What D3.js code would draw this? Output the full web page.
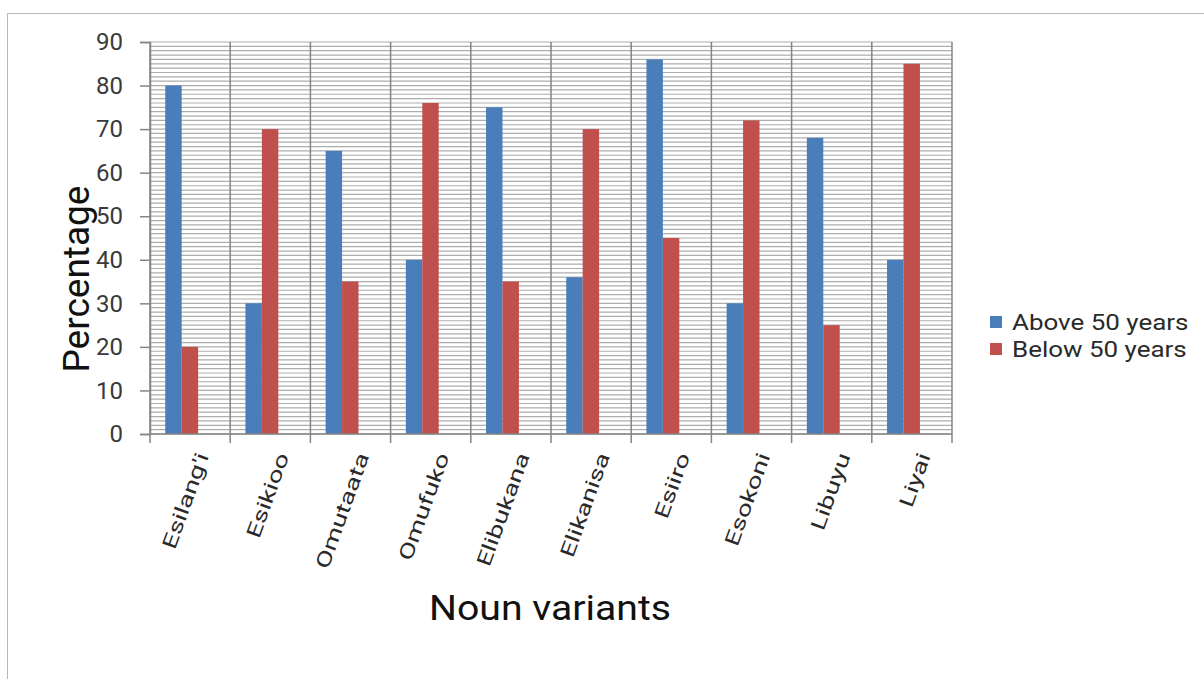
<!DOCTYPE html>
<html>
<head>
<meta charset="utf-8">
<script src="https://cdn.jsdelivr.net/npm/d3@7"></script>
<style>
  body { margin: 0; background: #fff; }
  text { font-family: Roboto, "Liberation Sans", Arial, sans-serif; }
</style>
</head>
<body>
<svg id="chart"></svg>
<script>
const WIDTH_PX = 1204;
const HEIGHT_PX = 679;

const categories = ["Esilang'i", "Esikioo", "Omutaata", "Omufuko", "Elibukana",
                    "Elikanisa", "Esiiro", "Esokoni", "Libuyu", "Liyai"];
const seriesNames = ["Above 50 years", "Below 50 years"];
const above50 = [80, 30, 65, 40, 75, 36, 86, 30, 68, 40];
const below50 = [20, 70, 35, 76, 35, 70, 45, 72, 25, 85];
const yTicks = [0, 10, 20, 30, 40, 50, 60, 70, 80, 90];
const colors = ["#4a7ebb", "#c0504d"];

const margin = {left: 150, right: 252, top: 42, bottom: 245};

let svg = d3.select('#chart')
    .attr('width', WIDTH_PX)
    .attr('height', HEIGHT_PX);

// outer frame of the chart area
svg.append('rect')
    .attr('x', 7.5).attr('y', 13.5)
    .attr('width', 1205).attr('height', 680)
    .attr('fill', 'none')
    .attr('stroke', '#b8b8b8');

let xScale = d3.scaleBand()
    .domain(categories)
    .range([margin.left, WIDTH_PX - margin.right]);

let yScale = d3.scaleLinear()
    .domain([0, 90])
    .range([HEIGHT_PX - margin.bottom, margin.top]);

// bars sit a little left of each category centre, as in the original
let xInner = d3.scaleBand()
    .domain(seriesNames)
    .range([xScale.bandwidth() * 0.19, xScale.bandwidth() * 0.6]);

// minor horizontal grid, one line per unit
svg.append('g')
    .selectAll('line')
    .data(d3.range(0, 91))
    .join('line')
    .attr('x1', margin.left).attr('x2', WIDTH_PX - margin.right)
    .attr('y1', d => yScale(d)).attr('y2', d => yScale(d))
    .attr('stroke', '#adadad')
    .attr('stroke-width', 1.2);

// vertical grid at category boundaries
let bounds = categories.map(c => xScale(c)).concat([xScale.range()[1]]);
svg.append('g')
    .selectAll('line')
    .data(bounds)
    .join('line')
    .attr('x1', d => d).attr('x2', d => d)
    .attr('y1', yScale(90)).attr('y2', yScale(0) + 9)
    .attr('stroke', '#858585')
    .attr('stroke-width', 1.5);

let rows = categories.map((c, i) => ({cat: c, values: [above50[i], below50[i]]}));

svg.append('g')
    .selectAll('g')
    .data(rows)
    .join('g')
    .attr('transform', d => 'translate(' + xScale(d.cat) + ',0)')
    .selectAll('rect')
    .data(d => d.values.map((v, k) => ({name: seriesNames[k], value: v, k: k})))
    .join('rect')
    .attr('x', d => xInner(d.name))
    .attr('width', xInner.bandwidth())
    .attr('y', d => yScale(d.value))
    .attr('height', d => yScale(0) - yScale(d.value))
    .attr('fill', d => colors[d.k]);

// y axis
let yAxis = svg.append('g')
    .attr('transform', 'translate(' + margin.left + ',0)')
    .call(d3.axisLeft(yScale).tickValues(yTicks).tickSize(10).tickPadding(17));
yAxis.select('.domain').attr('stroke', '#858585').attr('stroke-width', 1.5);
yAxis.selectAll('.tick line').attr('stroke', '#858585').attr('stroke-width', 1.5);
yAxis.selectAll('.tick text')
    .attr('font-size', 24)
    .attr('fill', '#3a3a3a')
    .style('font-family', 'Roboto, sans-serif');

// x axis line
svg.append('line')
    .attr('x1', margin.left).attr('x2', WIDTH_PX - margin.right)
    .attr('y1', yScale(0)).attr('y2', yScale(0))
    .attr('stroke', '#858585')
    .attr('stroke-width', 1.5);

// rotated category labels
svg.append('g')
    .selectAll('text')
    .data(categories)
    .join('text')
    .attr('transform', d => 'translate(' + (xScale(d) + xScale.bandwidth() / 2 + 19) + ',456) rotate(-70) scale(1.38,1)')
    .attr('text-anchor', 'end')
    .attr('font-size', 20)
    .attr('fill', '#2a2a2a')
    .text(d => d);

// axis titles
svg.append('text')
    .attr('transform', 'translate(550,620) scale(1.12,1)')
    .attr('text-anchor', 'middle')
    .attr('font-size', 35)
    .attr('fill', '#111')
    .text('Noun variants');

svg.append('text')
    .attr('transform', 'translate(89,279) rotate(-90)')
    .attr('text-anchor', 'middle')
    .attr('font-size', 37)
    .attr('fill', '#111')
    .text('Percentage');

// legend
let legend = svg.append('g')
    .selectAll('g')
    .data(seriesNames)
    .join('g')
    .attr('transform', (d, i) => 'translate(990,' + (322 + i * 27) + ')');
legend.append('rect')
    .attr('x', 0).attr('y', -6)
    .attr('width', 12).attr('height', 12)
    .attr('fill', (d, i) => colors[i]);
legend.append('text')
    .attr('transform', 'translate(22,8) scale(1.18,1)')
    .attr('font-size', 22)
    .attr('fill', '#2a2a2a')
    .text(d => d);
</script>
</body>
</html>
